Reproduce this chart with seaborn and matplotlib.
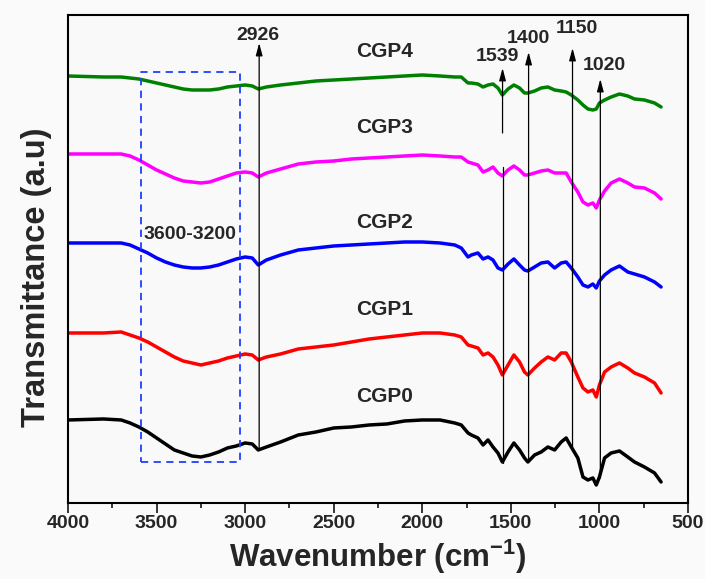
import numpy as np
import pandas as pd
import matplotlib
matplotlib.use("Agg")
import matplotlib.pyplot as plt
import seaborn as sns

# ---------------- data ----------------
wavenumber = [4000, 3800, 3700, 3650, 3600, 3550, 3500, 3450, 3400, 3350,
              3300, 3250, 3200, 3150, 3100, 3050, 3000, 2960, 2926, 2880,
              2800, 2700, 2600, 2500, 2400, 2300, 2200, 2100, 2000, 1900,
              1817, 1780, 1742, 1723, 1686, 1657, 1629, 1601, 1573, 1548,
              1516, 1483, 1451, 1423, 1404, 1366, 1329, 1291, 1253, 1216,
              1188, 1159, 1122, 1093, 1065, 1037, 1018, 1000, 971, 934,
              887, 840, 802, 746, 689, 652]

cgp4 = [427, 426, 426, 425, 424, 422, 420, 418, 416, 414,
        413, 413, 413, 414, 416, 417, 418, 417, 414, 416,
        418, 420, 422, 423, 424, 425, 426, 427, 428, 427,
        426, 426, 420, 420, 419, 416, 418, 419, 415, 408,
        414, 418, 415, 410, 410, 412, 415, 416, 413, 412,
        411, 408, 403, 398, 394, 393, 394, 400, 403, 406,
        409, 407, 404, 403, 400, 396]
cgp3 = [349, 349, 349, 347, 343, 338, 333, 329, 325, 322,
        321, 320, 321, 324, 327, 330, 331, 330, 326, 330,
        334, 339, 341, 342, 344, 345, 346, 347, 348, 347,
        346, 346, 341, 340, 338, 331, 333, 336, 330, 327,
        333, 337, 333, 328, 328, 330, 332, 333, 330, 330,
        330, 321, 311, 301, 298, 300, 295, 303, 312, 320,
        324, 320, 316, 315, 310, 304]
cgp2 = [260, 260, 260, 258, 254, 250, 245, 241, 238, 236,
        235, 235, 236, 238, 241, 244, 246, 245, 238, 243,
        248, 253, 255, 257, 258, 259, 260, 261, 261, 260,
        258, 255, 246, 248, 250, 244, 246, 243, 235, 233,
        239, 244, 238, 233, 232, 236, 240, 241, 235, 240,
        241, 235, 226, 218, 216, 219, 215, 222, 228, 233,
        237, 231, 229, 226, 221, 216]
cgp1 = [170, 170, 171, 168, 165, 161, 156, 151, 146, 142,
        140, 138, 140, 142, 145, 147, 149, 148, 143, 146,
        149, 154, 156, 158, 161, 164, 166, 168, 170, 170,
        168, 166, 158, 157, 155, 148, 150, 146, 138, 128,
        138, 148, 141, 131, 128, 135, 141, 146, 143, 150,
        150, 141, 126, 115, 111, 113, 106, 118, 131, 136,
        140, 135, 130, 126, 120, 110]
cgp0 = [83, 84, 83, 80, 76, 71, 65, 59, 53, 50,
        47, 46, 48, 51, 55, 57, 60, 59, 53, 56,
        61, 68, 71, 75, 76, 78, 79, 82, 83, 83,
        80, 78, 70, 68, 65, 58, 63, 56, 50, 41,
        51, 60, 53, 45, 41, 48, 51, 56, 53, 61,
        65, 56, 45, 26, 23, 25, 18, 26, 45, 50,
        52, 46, 41, 36, 30, 21]

samples = ["CGP0", "CGP1", "CGP2", "CGP3", "CGP4"]
series = [cgp0, cgp1, cgp2, cgp3, cgp4]
colors = ["#000000", "#ff0000", "#0000ff", "#ff00ff", "#008000"]
label_y = [106, 193, 280, 375, 451]
label_x = 2212

# peak markers: arrow position, arrow bottom, arrow tip, label text, label position
peak_x = [2921, 1547, 1400, 1152, 995]
peak_bottom = [53, 40, 43, 53, 25]
peak_tip = [460, 435, 451, 455, 424]
peak_labels = ["2926", "1539", "1400", "1150", "1020"]
peak_label_x = [2928, 1575, 1400, 1129, 971]
peak_label_y = [467, 446, 464, 474, 437]

box_x = [3590, 3030]
box_y = [41, 431]
box_label = "3600-3200"
box_label_pos = (3312, 268)

xticks = [4000, 3500, 3000, 2500, 2000, 1500, 1000, 500]

# ---------------- figure ----------------
sns.set_theme(style="ticks")
plt.rcParams["font.family"] = ["Liberation Sans", "DejaVu Sans"]
plt.rcParams["font.weight"] = "bold"
plt.rcParams["mathtext.fontset"] = "custom"
plt.rcParams["mathtext.rm"] = "Liberation Sans"
plt.rcParams["mathtext.bf"] = "Liberation Sans:bold"

fig = plt.figure(figsize=(7.05, 5.79), dpi=100, facecolor="#fafafa")
ax = fig.add_axes([0.0965, 0.1313, 0.8794, 0.8428])
ax.set_facecolor("#f9f9f9")

rows = []
for s, vals in zip(samples, series):
    for w, v in zip(wavenumber, vals):
        rows.append({"Wavenumber": w, "T": v, "Sample": s})
df = pd.DataFrame(rows)

sns.lineplot(data=df, x="Wavenumber", y="T", hue="Sample",
             palette=dict(zip(samples, colors)), estimator=None, sort=False,
             lw=2.5, legend=False, ax=ax)
for ln in ax.get_lines():
    ln.set_solid_joinstyle("round")
    ln.set_solid_capstyle("round")

ax.set_xlim(4000, 500)
ax.set_ylim(0, 488)
ax.set_xticks(xticks)
ax.set_xticks(np.arange(500, 4001, 250), minor=True)
ax.set_yticks([])
ax.tick_params(axis="x", which="major", direction="out", length=7, width=1.3,
               labelsize=14, pad=2)
ax.tick_params(axis="x", which="minor", direction="out", length=3.6, width=1.3)
for lab in ax.get_xticklabels():
    lab.set_fontweight("bold")
for sp in ax.spines.values():
    sp.set_linewidth(1.5)
    sp.set_color("black")

ax.set_xlabel("Wavenumber (cm$^{\\mathbf{-1}}$)", fontsize=22.5, fontweight="bold",
              labelpad=4)
ax.set_ylabel("Transmittance (a.u)", fontsize=23.5, fontweight="bold")
ax.yaxis.set_label_coords(-0.026, 0.463)

# sample labels
for s, y in zip(samples, label_y):
    ax.text(label_x, y, s, ha="center", va="center", fontsize=15, fontweight="bold")

# arrows
head = "-|>,head_length=0.75,head_width=0.2"
for x, b, t in zip(peak_x, peak_bottom, peak_tip):
    if x == 1547:
        ax.plot([x, x], [b, 336], color="black", lw=0.9)
        ax.annotate("", xy=(x, t), xytext=(x, 370),
                    arrowprops=dict(arrowstyle=head, color="black", lw=0.9,
                                    mutation_scale=10, shrinkA=0, shrinkB=0))
    else:
        ax.annotate("", xy=(x, t), xytext=(x, b),
                    arrowprops=dict(arrowstyle=head, color="black", lw=0.9,
                                    mutation_scale=10, shrinkA=0, shrinkB=0))
for lab, lx, ly in zip(peak_labels, peak_label_x, peak_label_y):
    ax.text(lx, ly, lab, ha="center", va="center", fontsize=14, fontweight="bold")

# dashed box
ax.plot([box_x[0], box_x[1], box_x[1], box_x[0], box_x[0]],
        [box_y[0], box_y[0], box_y[1], box_y[1], box_y[0]],
        color="#1f3fff", lw=1.3, ls=(0, (4, 3)))
ax.text(box_label_pos[0], box_label_pos[1], box_label, ha="center", va="center",
        fontsize=14, fontweight="bold")

fig.savefig("out.png", dpi=100, facecolor=fig.get_facecolor())
